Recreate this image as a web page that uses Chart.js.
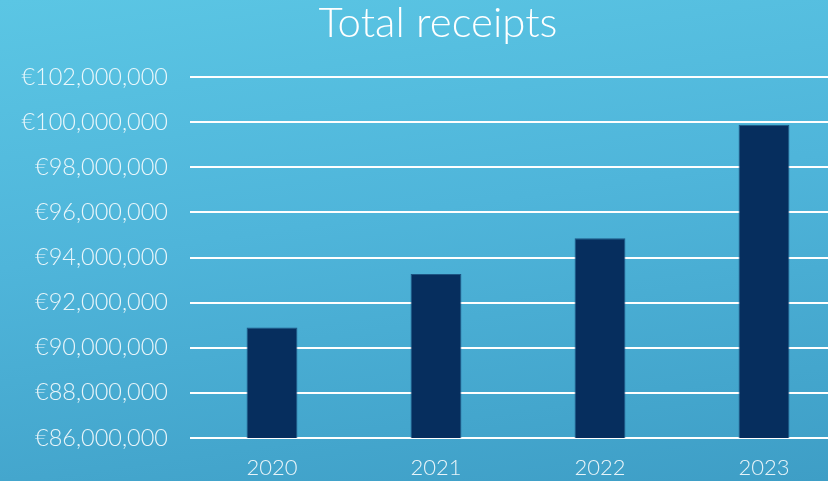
<!DOCTYPE html>
<html>
<head>
<meta charset="utf-8">
<script src="https://cdn.jsdelivr.net/npm/chart.js@4"></script>
<style>
  html, body { margin: 0; padding: 0; overflow: hidden; }
  body {
    width: 828px; height: 481px;
    background: linear-gradient(172deg, #5bc6e4 0%, #4fb5da 45%, #3e9ec6 100%);
  }
  #wrap { width: 876px; height: 481px; }
</style>
</head>
<body>
<div id="wrap"><canvas id="chart"></canvas></div>
<script>
const years = ['2020', '2021', '2022', '2023'];
const receipts = [90900000, 93270000, 94850000, 99880000];
const yMin = 86000000, yMax = 102000000, yStep = 2000000;

Chart.defaults.font.family = 'Lato, "Open Sans", sans-serif';
Chart.defaults.color = 'rgba(255,255,255,0.88)';

let ctx = document.getElementById('chart').getContext('2d');
let chart = new Chart(ctx, {
  type: 'bar',
  data: {
    labels: years,
    datasets: [{
      data: receipts,
      backgroundColor: '#062e5e',
      borderColor: '#1d5583',
      borderWidth: 1,
      barPercentage: 0.31,
      categoryPercentage: 1
    }]
  },
  options: {
    responsive: true,
    maintainAspectRatio: false,
    animation: false,
    layout: { padding: 0 },
    plugins: {
      legend: { display: false },
      tooltip: { enabled: false },
      title: {
        display: true,
        text: 'Total receipts',
        color: '#ffffff',
        font: { size: 42, weight: 300, lineHeight: 1 },
        padding: { top: 2, bottom: 33 }
      }
    },
    scales: {
      x: {
        grid: { display: false, drawTicks: false },
        border: { display: false },
        ticks: { font: { size: 22, weight: 300 }, padding: 17 },
        afterFit: s => { s.height = 43; }
      },
      y: {
        min: yMin,
        max: yMax,
        grid: { color: '#ffffff', lineWidth: 2, drawTicks: false },
        border: { display: false },
        ticks: {
          stepSize: yStep,
          padding: 22,
          font: { size: 23.5, weight: 300 },
          callback: v => '€' + v.toLocaleString('en-US')
        },
        afterFit: s => { s.width = 190; }
      },
      // empty right-hand spacer so the plot ends past the visible edge
      spacer: {
        type: 'linear',
        position: 'right',
        grid: { display: false, drawTicks: false },
        border: { display: false },
        ticks: { display: false },
        afterFit: s => { s.width = 30; }
      }
    }
  }
});
</script>
</body>
</html>
